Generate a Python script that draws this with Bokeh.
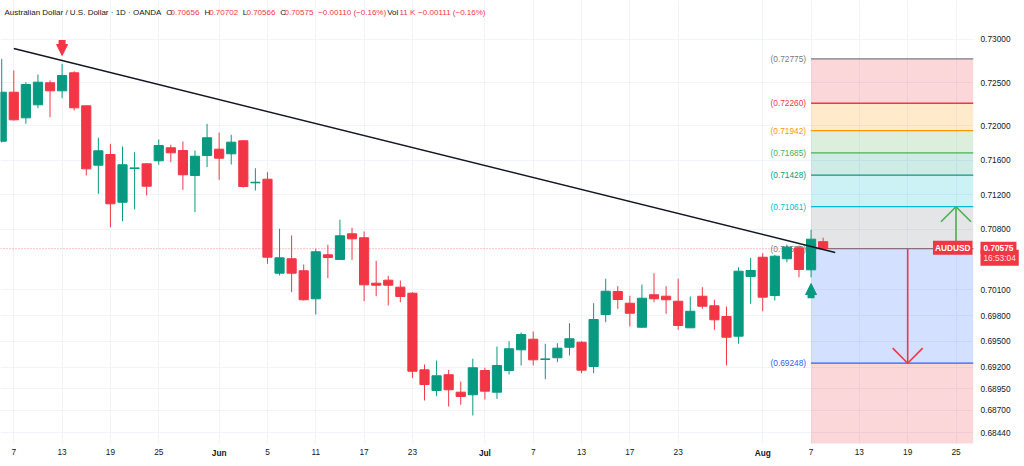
from bokeh.plotting import figure
from bokeh.models import (Range1d, FixedTicker, PrintfTickFormatter, Label, Arrow,
                          NormalHead, ColumnDataSource, LinearAxis)
from bokeh.embed import file_html
from bokeh.resources import INLINE
from bokeh.core.properties import value

# ---------------- data ----------------
candle_x = list(range(-1, 68))
opens = [0.71820, 0.72388, 0.72091, 0.72242, 0.72497, 0.72404, 0.72613, 0.72230, 0.71542, 0.71666,
         0.71113, 0.71504, 0.71558, 0.71593, 0.71744, 0.71712, 0.71423, 0.71655, 0.71728, 0.71674,
         0.71825, 0.71338, 0.71380, 0.70291, 0.70458, 0.70319, 0.69994, 0.70504, 0.70450, 0.70747,
         0.70701, 0.70175, 0.70210, 0.70129, 0.70059, 0.69171, 0.68932, 0.69114, 0.68912, 0.68882,
         0.69163, 0.68912, 0.69163, 0.69403, 0.69526, 0.69291, 0.69311, 0.69433, 0.69491, 0.69210,
         0.69812, 0.70079, 0.69943, 0.69665, 0.70041, 0.70024, 0.69966, 0.69658, 0.70024, 0.69913,
         0.69789, 0.69561, 0.70253, 0.70476, 0.70032, 0.70458, 0.70585, 0.70330, 0.70656]
highs = [0.72775, 0.72639, 0.72504, 0.72593, 0.72524, 0.72717, 0.72631, 0.72234, 0.71860, 0.71790,
         0.71759, 0.71693, 0.71565, 0.71840, 0.71779, 0.71817, 0.71712, 0.72022, 0.71921, 0.71894,
         0.71832, 0.71507, 0.71461, 0.70805, 0.70728, 0.70392, 0.70574, 0.70620, 0.70910, 0.70817,
         0.70774, 0.70434, 0.70261, 0.70206, 0.70071, 0.69233, 0.69279, 0.69171, 0.69036, 0.69299,
         0.69195, 0.69441, 0.69503, 0.69604, 0.69615, 0.69473, 0.69480, 0.69711, 0.69503, 0.69943,
         0.70226, 0.70140, 0.70029, 0.70160, 0.70291, 0.70140, 0.70226, 0.70021, 0.70129, 0.69983,
         0.69905, 0.70360, 0.70469, 0.70523, 0.70504, 0.70623, 0.70612, 0.70794, 0.70702]
lows = [0.71805, 0.72060, 0.72022, 0.72203, 0.72098, 0.72319, 0.72176, 0.71423, 0.71211, 0.70824,
        0.70893, 0.71029, 0.71191, 0.71547, 0.71577, 0.71257, 0.70998, 0.71519, 0.71373, 0.71550,
        0.71284, 0.71249, 0.70400, 0.70264, 0.70071, 0.69974, 0.69812, 0.70233, 0.70444, 0.70446,
        0.69966, 0.70024, 0.69917, 0.69955, 0.69074, 0.68816, 0.68866, 0.68746, 0.68766, 0.68642,
        0.68827, 0.68835, 0.69117, 0.69221, 0.69221, 0.69062, 0.69260, 0.69337, 0.69132, 0.69132,
        0.69723, 0.69878, 0.69673, 0.69658, 0.69955, 0.69820, 0.69635, 0.69655, 0.69878, 0.69635,
        0.69221, 0.69473, 0.69936, 0.69850, 0.69974, 0.70418, 0.70244, 0.70244, 0.70566]
closes = [0.72388, 0.72068, 0.72477, 0.72504, 0.72404, 0.72582, 0.72207, 0.71500, 0.71709, 0.71095,
          0.71547, 0.71511, 0.71299, 0.71770, 0.71686, 0.71431, 0.71646, 0.71860, 0.71623, 0.71809,
          0.71295, 0.71345, 0.70476, 0.70469, 0.70291, 0.69983, 0.70539, 0.70473, 0.70724, 0.70689,
          0.70156, 0.70152, 0.70152, 0.70021, 0.69155, 0.69001, 0.69102, 0.68940, 0.68862, 0.69195,
          0.68924, 0.69221, 0.69415, 0.69580, 0.69287, 0.69298, 0.69422, 0.69531, 0.69167, 0.69754,
          0.70082, 0.69986, 0.69827, 0.70001, 0.69994, 0.69983, 0.69685, 0.69850, 0.69908, 0.69751,
          0.69549, 0.70314, 0.70322, 0.70013, 0.70488, 0.70592, 0.70334, 0.70685, 0.70575]

day_tick_pos = [0, 4, 8, 12, 21, 25, 29, 33, 43, 47, 51, 55, 66, 70, 74, 78]
day_tick_labels = ["7", "13", "19", "25", "5", "11", "17", "23",
                   "7", "13", "17", "23", "7", "13", "19", "25"]
month_tick_pos = [17, 39, 62]
month_tick_labels = ["Jun", "Jul", "Aug"]
y_ticks = [0.73000, 0.72500, 0.72000, 0.71600, 0.71200, 0.70800, 0.70100,
           0.69800, 0.69500, 0.69200, 0.68950, 0.68700, 0.68440]

fib_levels = [0.72775, 0.72260, 0.71942, 0.71685, 0.71428, 0.71061, 0.70575, 0.69248]
fib_colors = ["#787b86", "#f23645", "#ff9800", "#4caf50", "#089981", "#00bcd4", "#787b86", "#2962ff"]
fib_zone_colors = ["#f23645", "#ff9800", "#4caf50", "#089981", "#00bcd4", "#787b86", "#2962ff", "#f23645"]

trend_x = [0, 68]
trend_y = [0.72894, 0.70531]

fib_start = 66
up_target_x, down_target_x = 78, 74

header = [("Australian Dollar / U.S. Dollar · 1D · OANDA", 4, "#131722"),
          ("O", 165.7, "#131722"), ("0.70656", 170, "#f23645"),
          ("H", 204, "#131722"), ("0.70702", 208.7, "#f23645"),
          ("L", 242.3, "#131722"), ("0.70566", 246, "#f23645"),
          ("C", 279.7, "#131722"), ("0.70575", 284, "#f23645"),
          ("\u22120.00110 (\u22120.16%)", 317.7, "#f23645"),
          ("Vol", 386.7, "#131722"), ("11 K", 399, "#f23645"),
          ("\u22120.00111 (\u22120.16%)", 417.7, "#f23645")]

# ---------------- layout constants ----------------
X_START, X_END = -1.10, 83.67      # whole canvas width
PANE_END = 79.445                  # right edge of the price pane (axis strip starts here)
Y_MIN, Y_MAX = 0.683175, 0.734505
UP, DOWN = "#089981", "#f23645"
FONT = "Liberation Sans"
FS = "8.3px"

p = figure(width=1024, height=466, output_backend="svg", toolbar_location=None,
           x_range=Range1d(X_START, X_END), y_range=Range1d(Y_MIN, Y_MAX),
           y_axis_location="right",
           min_border_left=0, min_border_top=0, min_border_right=0, min_border_bottom=23)
p.outline_line_color = None
p.background_fill_color = "white"
p.border_fill_color = "white"

month_axis = LinearAxis()
p.add_layout(month_axis, "below")

for ax in (p.xaxis[0], p.yaxis[0], month_axis):
    ax.axis_line_color = None
    ax.major_tick_line_color = None
    ax.minor_tick_line_color = None
    ax.major_tick_out = 0
    ax.major_tick_in = 0
    ax.major_label_text_font = FONT
    ax.major_label_text_font_size = FS
    ax.major_label_text_color = "#131722"

p.xaxis[0].ticker = FixedTicker(ticks=day_tick_pos)
p.xaxis[0].major_label_overrides = {k: v for k, v in zip(day_tick_pos, day_tick_labels)}
p.xaxis[0].major_label_standoff = 5
month_axis.ticker = FixedTicker(ticks=month_tick_pos)
month_axis.major_label_overrides = {k: v for k, v in zip(month_tick_pos, month_tick_labels)}
month_axis.major_label_text_font_style = "bold"
month_axis.major_label_standoff = -10
p.yaxis.ticker = FixedTicker(ticks=y_ticks)
p.yaxis.formatter = PrintfTickFormatter(format="%.5f")
p.yaxis.major_label_standoff = -44
p.xgrid.ticker = FixedTicker(ticks=sorted(day_tick_pos + month_tick_pos))
p.xgrid.grid_line_color = "#f0f3fa"
p.ygrid.grid_line_color = "#f0f3fa"

# fib zones
zone_tops = fib_levels
zone_bottoms = fib_levels[1:] + [Y_MIN - 0.01]
p.quad(left=fib_start, right=PANE_END, top=zone_tops, bottom=zone_bottoms,
       fill_color=fib_zone_colors, fill_alpha=0.2, line_color=None)
p.segment(x0=[fib_start] * len(fib_levels), x1=[PANE_END] * len(fib_levels),
          y0=fib_levels, y1=fib_levels, line_color=fib_colors, line_width=1.3)
p.text(x=[fib_start] * len(fib_levels), y=fib_levels,
       text=["(%.5f)" % v for v in fib_levels], text_color=fib_colors,
       text_align="right", text_baseline="middle", x_offset=-5,
       text_font=value(FONT), text_font_size=FS)

# axis strip background (hides grid lines there)
p.quad(left=[PANE_END], right=[X_END + 1], bottom=[Y_MIN - 0.01], top=[Y_MAX + 0.01],
       fill_color="white", line_color=None)

# current price line
last = closes[-1]
p.segment(x0=[X_START], x1=[PANE_END], y0=[last], y1=[last], line_color="#f23645",
          line_alpha=0.6, line_dash="1 2", line_width=1)

# candles
cols = [UP if c >= o else DOWN for o, c in zip(opens, closes)]
src = ColumnDataSource(dict(x=candle_x, o=opens, h=highs, l=lows, c=closes,
                            top=[max(o, c) for o, c in zip(opens, closes)],
                            bot=[min(o, c) for o, c in zip(opens, closes)],
                            col=cols))
p.segment(x0="x", x1="x", y0="l", y1="h", line_color="col", line_width=1, source=src)
p.vbar(x="x", width=0.76, top="top", bottom="bot", fill_color="col", line_color="col",
       line_width=1, source=src)

# trend line
p.line(trend_x, trend_y, line_color="#131722", line_width=1.5)

# block arrows at candles
tip_dn = highs[5] + 0.00096
p.add_layout(Arrow(x_start=4, y_start=tip_dn + 0.0018, x_end=4, y_end=tip_dn,
                   line_color=DOWN, line_width=7,
                   end=NormalHead(size=11, fill_color=DOWN, line_color=DOWN)))
tip_up = lows[-2] - 0.00073
p.add_layout(Arrow(x_start=fib_start, y_start=tip_up - 0.0017, x_end=fib_start, y_end=tip_up,
                   line_color=UP, line_width=7,
                   end=NormalHead(size=11, fill_color=UP, line_color=UP)))

# target arrows
wdx, wdy = 1.24, 0.00174
up_tip = fib_levels[5]
dn_tip = fib_levels[7]
p.segment(x0=[up_target_x, up_target_x, up_target_x],
          y0=[last, up_tip, up_tip],
          x1=[up_target_x, up_target_x - wdx, up_target_x + wdx],
          y1=[up_tip, up_tip - wdy, up_tip - wdy],
          line_color="#4caf50", line_width=1.6)
p.segment(x0=[down_target_x, down_target_x, down_target_x],
          y0=[last, dn_tip, dn_tip],
          x1=[down_target_x, down_target_x - wdx, down_target_x + wdx],
          y1=[dn_tip, dn_tip + wdy, dn_tip + wdy],
          line_color="#f23645", line_width=1.6)

# header
HEADER_Y = 0.733115
for txt, xo, col in header:
    p.add_layout(Label(x=xo, y=HEADER_Y, x_units="screen", y_units="data", text=txt,
                       text_color=col, text_font=FONT, text_font_size="8px",
                       text_baseline="middle"))

# price labels on the axis strip
p.add_layout(Label(x=PANE_END, y=last, text="AUDUSD", text_align="right",
                   text_baseline="middle", x_offset=-1, y_offset=1, text_color="white",
                   text_font=FONT, text_font_size=FS, text_font_style="bold",
                   background_fill_color="#f23645", padding=2))
p.add_layout(Label(x=PANE_END, y=last, text="16:53:04", text_align="left",
                   text_baseline="middle", x_offset=7, y_offset=-9, text_color="#ffe0e3",
                   text_font=FONT, text_font_size=FS,
                   background_fill_color="#f23645", padding=3))
p.add_layout(Label(x=PANE_END, y=last, text="%.5f" % last, text_align="left",
                   text_baseline="middle", x_offset=7, y_offset=1, text_color="white",
                   text_font=FONT, text_font_size=FS, text_font_style="bold",
                   background_fill_color="#f23645", padding=3))

open("out.html", "w").write(file_html(p, INLINE))
